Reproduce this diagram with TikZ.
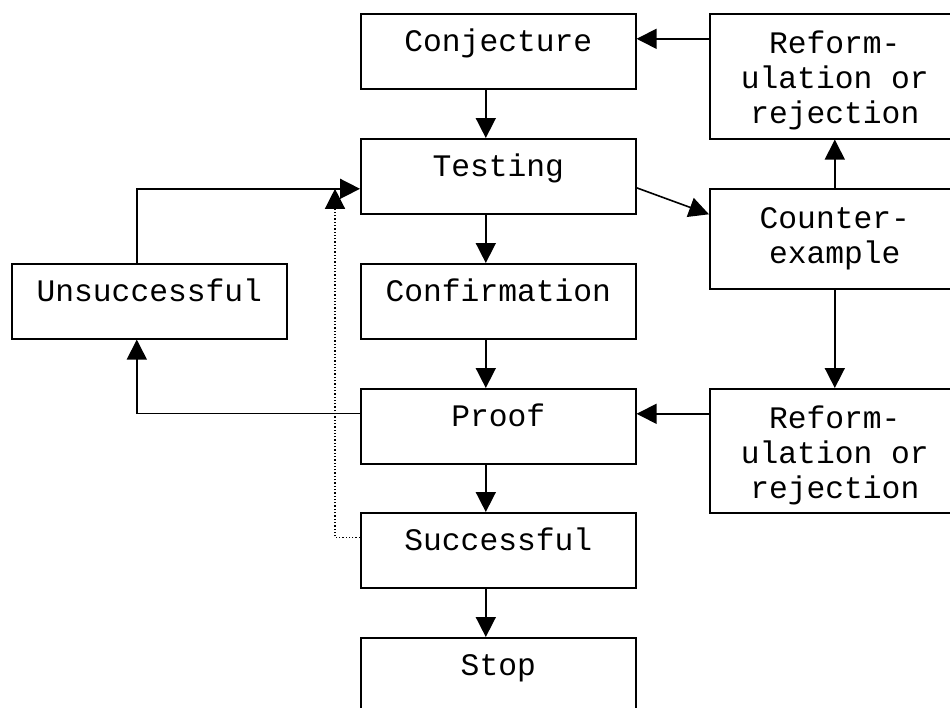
\documentclass[tikz,border=0pt]{standalone}
\usepackage{fontspec}
\setmonofont{Liberation Mono}
\usepackage{tikz}
\usetikzlibrary{arrows.meta}
\newcommand{\boxfont}{\ttfamily\fontsize{31.3pt}{35pt}\selectfont}

\begin{document}
\begin{tikzpicture}[x=1pt,y=-1pt,
        box/.style={draw, line width=1.6pt, inner sep=0pt, anchor=north west,
            minimum width=275pt, minimum height=75pt, align=center,
            text height=37.5pt, text depth=37.5pt, font=\boxfont},
        sidebox/.style={box, minimum width=250pt},
        flow/.style={line width=1.6pt, -{Triangle[length=20pt,width=20pt]}},
        feedback/.style={line width=1.3pt, dotted, -{Triangle[length=20pt,width=20pt]}}]
        \useasboundingbox (0,0) rectangle (950,707);

        % Main column
        \node[box] (conj) at (360,13) {Conjecture};
        \node[box] (test) at (360,138) {Testing};
        \node[box] (conf) at (360,263) {Confirmation};
        \node[box] (proof) at (360,388) {Proof};
        \node[box] (succ) at (360,512) {Successful};
        \node[box] (stop) at (360,637) {Stop};

        % Side boxes
        \node[box] (unsucc) at (11,263) {Unsuccessful};
        \node[sidebox, text height=110pt, text depth=15pt] (reftop) at (709,13) {Reform-\\ulation or\\rejection};
        \node[sidebox, text height=74.5pt, text depth=25.5pt] (counter) at (709,188) {Counter-\\example};
        \node[sidebox, text height=110pt, text depth=14pt] (refbot) at (709,388) {Reform-\\ulation or\\rejection};

        % Points where the connectors meet the boxes
        \coordinate (conjin) at ([yshift=12.5pt]conj.east);
        \coordinate (proofin) at ([yshift=12.5pt]proof.east);
        \coordinate (proofout) at ([yshift=13pt]proof.west);
        \coordinate (testin) at ([yshift=-12.5pt]test.west);
        \coordinate (succout) at ([yshift=12.5pt]succ.west);
        \coordinate (loopx) at (335,0);

        % Down the main column
        \foreach \a/\b in {conj/test, test/conf, conf/proof, proof/succ, succ/stop} {
            \draw[flow] ([xshift=-12.5pt]\a.south) -- ([xshift=-12.5pt]\b.north);
        }

        % Counter-example branch
        \draw[flow] ([yshift=-11.5pt]test.east) -- ([yshift=24.5pt]counter.west);
        \draw[flow] (counter.north) -- (reftop.south);
        \draw[flow] (counter.south) -- (refbot.north);
        \draw[flow] (reftop.west |- conjin) -- (conjin);
        \draw[flow] (refbot.west |- proofin) -- (proofin);

        % Unsuccessful loop
        \draw[flow] (proofout) -| ([xshift=-12.5pt]unsucc.south);
        \draw[flow] ([xshift=-12.5pt]unsucc.north) |- (testin);

        % Successful loop
        \draw[feedback] (succout) -| (loopx |- testin);
    \end{tikzpicture}
\end{document}
